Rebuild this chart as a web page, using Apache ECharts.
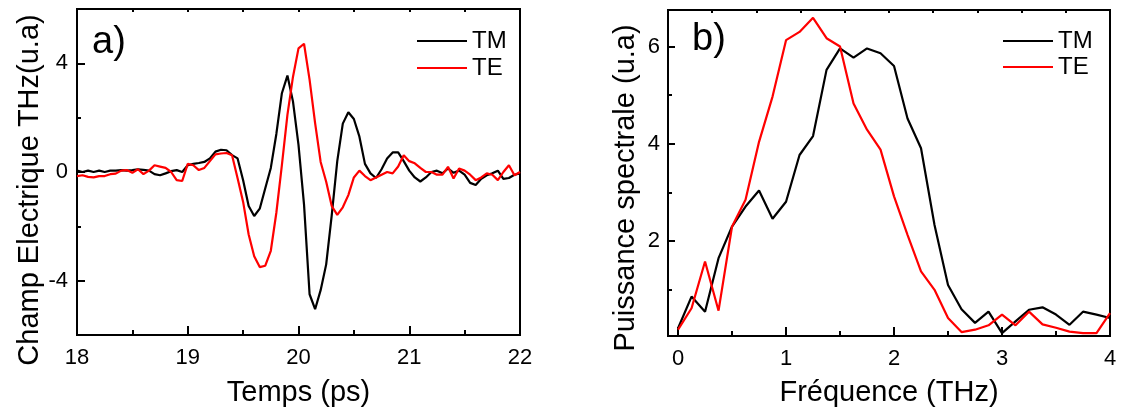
<!DOCTYPE html>
<html><head><meta charset="utf-8">
<script src="https://cdn.jsdelivr.net/npm/echarts@6/dist/echarts.min.js"></script>
<style>html,body{margin:0;padding:0;background:#fff}#c{width:1130px;height:418px}</style>
</head><body><div id="c"></div>
<script>
// ---- Panel a) : time domain ----
const timePs = [18.00,18.05,18.10,18.15,18.20,18.25,18.30,18.35,18.40,18.45,
  18.50,18.55,18.60,18.65,18.70,18.75,18.80,18.85,18.90,18.95,
  19.00,19.05,19.10,19.15,19.20,19.25,19.30,19.35,19.40,19.45,
  19.50,19.55,19.60,19.65,19.70,19.75,19.80,19.85,19.90,19.95,
  20.00,20.05,20.10,20.15,20.20,20.25,20.30,20.35,20.40,20.45,
  20.50,20.55,20.60,20.65,20.70,20.75,20.80,20.85,20.90,20.95,
  21.00,21.05,21.10,21.15,21.20,21.25,21.30,21.35,21.40,21.45,
  21.50,21.55,21.60,21.65,21.70,21.75,21.80,21.85,21.90,21.95,22.00];
const fieldTM = [0.05,0.0,0.05,0.0,0.05,0.0,0.05,0.05,0.07,0.05,
  0.07,0.1,0.08,0.05,-0.08,-0.12,-0.05,0.03,0.07,0.0,
  0.25,0.3,0.33,0.37,0.5,0.75,0.82,0.8,0.62,0.5,
  -0.3,-1.25,-1.62,-1.35,-0.6,0.15,1.4,2.9,3.55,2.6,
  1.0,-1.2,-4.5,-5.05,-4.35,-3.4,-1.6,0.4,1.78,2.2,
  1.95,1.3,0.3,-0.05,-0.22,0.1,0.5,0.72,0.72,0.4,
  0.05,-0.2,-0.35,-0.2,0.0,0.05,-0.05,0.13,-0.03,0.05,
  -0.1,-0.4,-0.48,-0.25,-0.12,-0.05,0.05,-0.25,-0.22,-0.1,-0.05];
const fieldTE = [-0.15,-0.12,-0.18,-0.2,-0.15,-0.15,-0.08,-0.06,0.05,0.07,
  -0.03,0.1,-0.08,0.05,0.25,0.2,0.15,0.0,-0.3,-0.33,
  0.3,0.25,0.07,0.15,0.4,0.65,0.68,0.7,0.62,-0.23,
  -1.1,-2.3,-3.1,-3.5,-3.45,-2.9,-1.5,0.25,2.1,3.5,
  4.55,4.72,3.4,1.8,0.37,-0.36,-1.25,-1.58,-1.3,-0.85,
  -0.2,0.05,-0.15,-0.3,-0.2,-0.1,0.0,-0.05,0.2,0.62,
  0.4,0.32,0.15,0.0,0.0,-0.1,-0.1,0.19,-0.24,0.13,
  0.05,-0.1,-0.3,-0.2,-0.05,-0.1,-0.3,0.0,0.25,-0.12,0.0];
const timeTicks = [18,19,20,21,22];
const timeMinor = [18.5,19.5,20.5,21.5];
const timeTop = [18,18.5,19,19.5,20,20.5,21,21.5,22];
const fieldTicks = [-4,0,4];
const fieldMinor = [-2,2];

// ---- Panel b) : spectra ----
const freqTHz = [0,0.125,0.25,0.375,0.5,0.625,0.75,0.875,1.0,1.125,1.25,1.375,1.5,1.625,1.75,1.875,
  2.0,2.125,2.25,2.375,2.5,2.625,2.75,2.875,3.0,3.125,3.25,3.375,3.5,3.625,3.75,3.875,4.0];
const powerTM = [0.21,0.86,0.55,1.65,2.3,2.71,3.04,2.46,2.81,3.77,4.16,5.52,5.96,5.77,5.96,5.86,
  5.6,4.52,3.91,2.33,1.1,0.6,0.32,0.55,0.11,0.35,0.59,0.64,0.49,0.28,0.55,0.49,0.42];
const powerTE = [0.18,0.62,1.58,0.57,2.3,2.85,4.04,4.97,6.13,6.3,6.59,6.17,6.0,4.83,4.29,3.88,
  2.92,2.13,1.38,1.0,0.42,0.13,0.18,0.27,0.49,0.27,0.55,0.29,0.22,0.14,0.11,0.11,0.52];
const freqTicks = [0,1,2,3,4];
const freqMinor = [0.5,1.5,2.5,3.5];
const powerTicks = [2,4,6];
const powerMinor = [1,3,5];

const FONT = 'Liberation Sans, Arial, sans-serif';
const black = '#000';
const red = '#ff0000';
const axisLine = {show:true, onZero:false, lineStyle:{color:black, width:2}};
const noLine = {show:false, onZero:false};

function tickAxis(extra, vals, len, labels, margin){
  return Object.assign({
    type:'value', axisLine: axisLine, splitLine:{show:false},
    axisTick:{show:true, inside:true, length:len, customValues: vals, lineStyle:{color:black, width:2}},
    axisLabel: labels ? {show:true, customValues: vals, color:black, fontSize:22, fontFamily:FONT, margin:margin} : {show:false}
  }, extra);
}

const legendItems = [{name:'TM', icon:'rect'}, {name:'TE', icon:'rect'}];

const chart = echarts.init(document.getElementById('c'), null, {renderer:'canvas'});
chart.setOption({
  animation:false,
  backgroundColor:'#fff',
  grid:[
    {left:77, right:610, top:9, bottom:83, show:true, borderColor:black, borderWidth:2},
    {left:668, right:20, top:10, bottom:82, show:true, borderColor:black, borderWidth:2}
  ],
  legend:[
    {data:legendItems, orient:'vertical', left:412, top:24, itemWidth:50, itemHeight:2, itemGap:3,
     textStyle:{fontSize:24, fontFamily:FONT, color:black}},
    {data:legendItems, orient:'vertical', left:998, top:24, itemWidth:50, itemHeight:2, itemGap:2,
     textStyle:{fontSize:24, fontFamily:FONT, color:black}}
  ],
  xAxis:[
    tickAxis({gridIndex:0, min:18, max:22, position:'bottom', name:'Temps (ps)', nameLocation:'middle', nameGap:43,
      nameTextStyle:{fontSize:29, fontFamily:FONT, color:black}}, timeTicks, 9, true, 12),
    tickAxis({gridIndex:0, min:18, max:22, position:'bottom', axisLine:noLine}, timeMinor, 5, false),
    tickAxis({gridIndex:0, min:18, max:22, position:'top'}, timeTop, 3, false),
    tickAxis({gridIndex:1, min:-0.093, max:4.0, position:'bottom', name:'Fréquence (THz)', nameLocation:'middle', nameGap:42,
      nameTextStyle:{fontSize:29, fontFamily:FONT, color:black}}, freqTicks, 9, true, 12),
    tickAxis({gridIndex:1, min:-0.093, max:4.0, position:'bottom', axisLine:noLine}, freqMinor, 5, false),
    {type:'value', gridIndex:1, min:0, max:10, interval:1, position:'top', axisLine:axisLine, splitLine:{show:false},
      axisTick:{show:true, inside:true, length:3, lineStyle:{color:black, width:2}}, axisLabel:{show:false}}
  ],
  yAxis:[
    tickAxis({gridIndex:0, min:-6, max:6, position:'left', name:'Champ Electrique THz(u.a)', nameLocation:'middle', nameGap:33,
      nameTextStyle:{fontSize:29, fontFamily:FONT, color:black, padding:[0,36,0,0]}}, fieldTicks, 8, true, 9),
    tickAxis({gridIndex:0, min:-6, max:6, position:'left', axisLine:noLine}, fieldMinor, 4, false),
    tickAxis({gridIndex:1, min:0.05, max:6.75, position:'left', name:'Puissance spectrale (u.a)', nameLocation:'middle', nameGap:28,
      nameTextStyle:{fontSize:29, fontFamily:FONT, color:black, padding:[0,30,0,0]}}, powerTicks, 7, true, 8),
    tickAxis({gridIndex:1, min:0.05, max:6.75, position:'left', axisLine:noLine}, powerMinor, 4, false)
  ],
  series:[
    {name:'TM', type:'line', xAxisIndex:0, yAxisIndex:0, symbol:'none', lineStyle:{color:black, width:2.2}, itemStyle:{color:black},
      data: timePs.map((t,i)=>[t, fieldTM[i]])},
    {name:'TE', type:'line', xAxisIndex:0, yAxisIndex:0, symbol:'none', lineStyle:{color:red, width:2.2}, itemStyle:{color:red},
      data: timePs.map((t,i)=>[t, fieldTE[i]])},
    {name:'TM', type:'line', xAxisIndex:3, yAxisIndex:2, symbol:'none', lineStyle:{color:black, width:2.2}, itemStyle:{color:black},
      data: freqTHz.map((f,i)=>[f, powerTM[i]])},
    {name:'TE', type:'line', xAxisIndex:3, yAxisIndex:2, symbol:'none', lineStyle:{color:red, width:2.2}, itemStyle:{color:red},
      data: freqTHz.map((f,i)=>[f, powerTE[i]])}
  ],
  graphic:[
    {type:'text', left:92, top:24, style:{text:'a)', font:'38px '+FONT, fill:black}},
    {type:'text', left:692, top:21, style:{text:'b)', font:'38px '+FONT, fill:black}}
  ]
});
</script></body></html>
